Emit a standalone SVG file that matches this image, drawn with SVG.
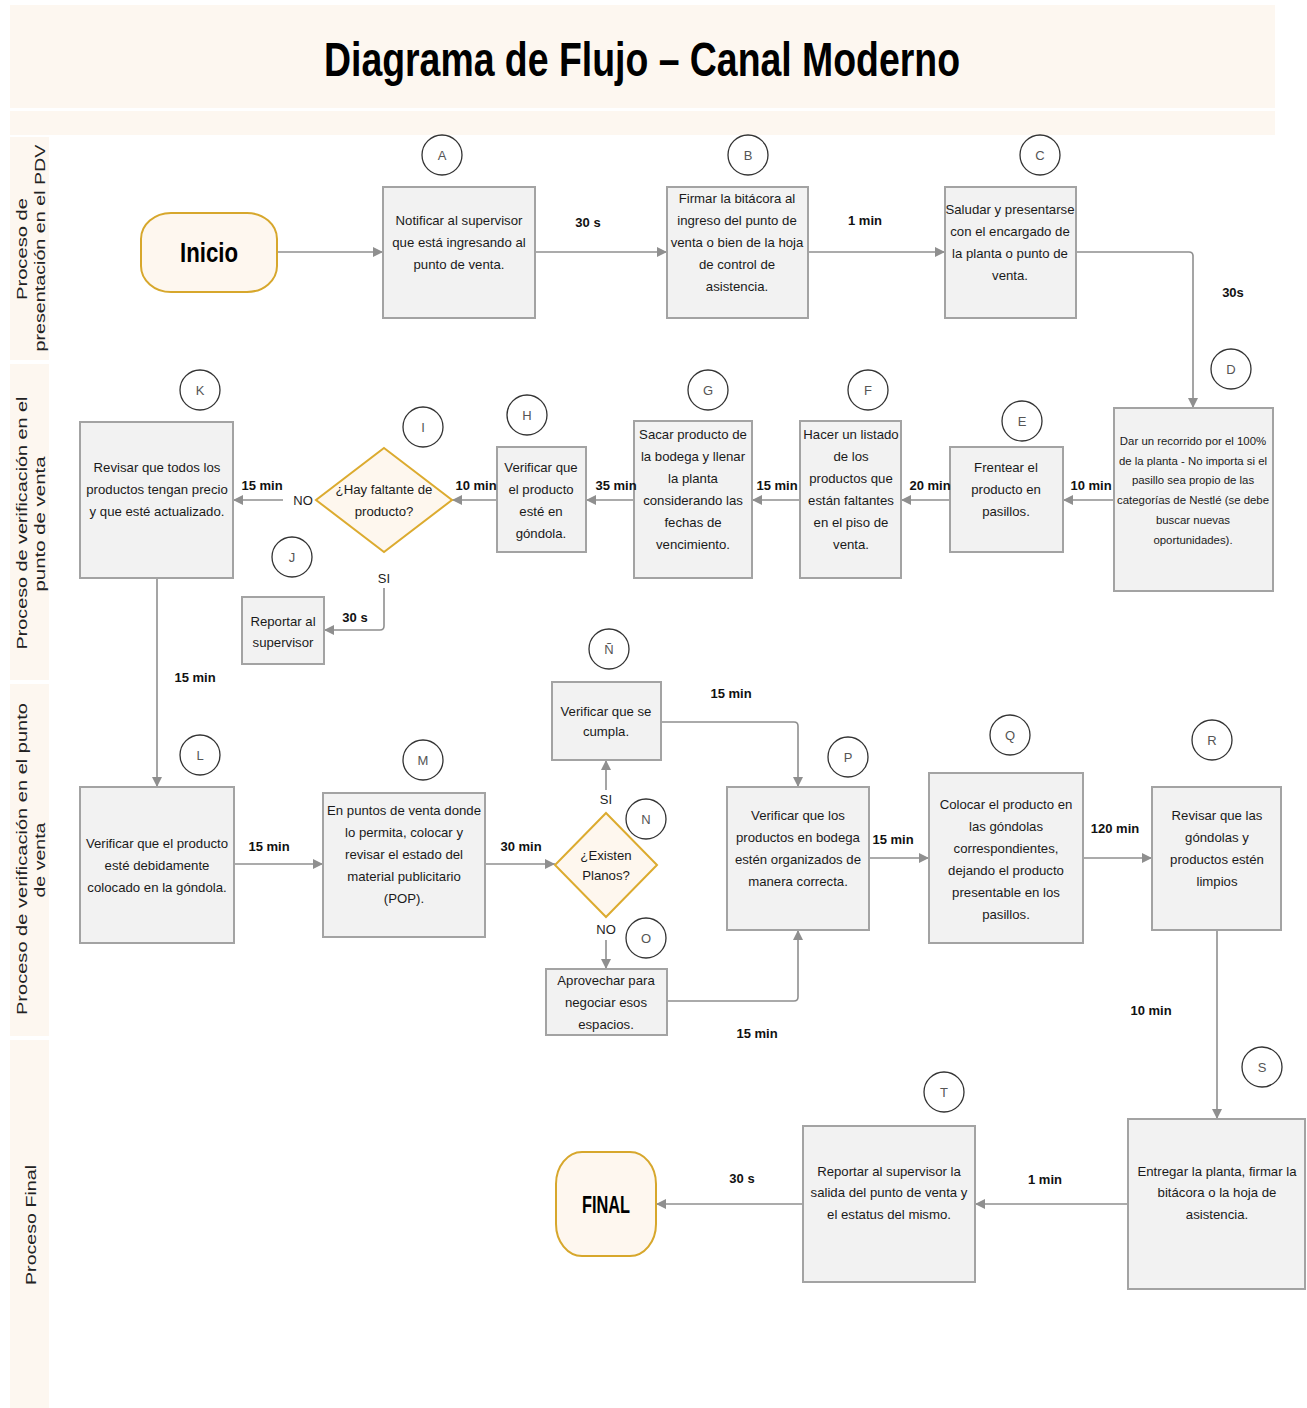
<svg xmlns="http://www.w3.org/2000/svg" width="1307" height="1408" viewBox="0 0 1307 1408">
  <style>
    .band { fill: #fdf7f0; }
    .box { fill: #f2f2f2; stroke: #a3a3a3; stroke-width: 2; }
    .term { fill: #fef7ef; stroke: #d7a72c; stroke-width: 2; }
    .dec { fill: #fef7ee; stroke: #dcab2f; stroke-width: 2; }
    .badge { fill: #ffffff; stroke: #333333; stroke-width: 1.3; }
    .bl { font-family: "Liberation Sans", Arial, sans-serif; font-size: 13px; fill: #555555; text-anchor: middle; }
    .t { font-family: "Liberation Sans", Arial, sans-serif; font-size: 13.2px; fill: #1a1a1a; text-anchor: middle; }
    .ts { font-size: 11.4px; }
    .lbl { font-family: "Liberation Sans", Arial, sans-serif; font-size: 13px; font-weight: bold; fill: #111111; text-anchor: middle; }
    .yn { font-family: "Liberation Sans", Arial, sans-serif; font-size: 13px; fill: #222222; text-anchor: middle; }
    .lane { font-family: "Liberation Sans", Arial, sans-serif; font-size: 14px; fill: #222222; text-anchor: middle; }
    .edge { fill: none; stroke: #8f8f8f; stroke-width: 1.6; }
  </style>
  <defs>
    <marker id="arr" viewBox="0 0 10 10" refX="10" refY="5" markerWidth="10" markerHeight="10" markerUnits="userSpaceOnUse" orient="auto">
      <path d="M0,0 L10,5 L0,10 z" fill="#8f8f8f"/>
    </marker>
  </defs>

  <rect width="1307" height="1408" fill="#ffffff"/>

  <!-- title bands -->
  <g id="title">
    <rect class="band" x="10" y="5" width="1265" height="103"/>
    <rect class="band" x="10" y="111" width="1265" height="24"/>
    <text x="642" y="76" font-family="'Liberation Sans', Arial, sans-serif" font-size="48" font-weight="bold" fill="#000000" text-anchor="middle" textLength="636" lengthAdjust="spacingAndGlyphs">Diagrama de Flujo – Canal Moderno</text>
  </g>

  <!-- swimlane headers -->
  <g id="lanes">
    <rect class="band" x="10" y="137" width="39" height="223"/>
    <rect class="band" x="10" y="364" width="39" height="316"/>
    <rect class="band" x="10" y="684" width="39" height="352"/>
    <rect class="band" x="10" y="1040" width="39" height="368"/>
    <text class="lane" transform="translate(27 249) rotate(-90)" textLength="102" lengthAdjust="spacingAndGlyphs">Proceso de</text>
    <text class="lane" transform="translate(45 248) rotate(-90)" textLength="207" lengthAdjust="spacingAndGlyphs">presentación en el PDV</text>
    <text class="lane" transform="translate(27 523) rotate(-90)" textLength="253" lengthAdjust="spacingAndGlyphs">Proceso de verificación en el</text>
    <text class="lane" transform="translate(45 524) rotate(-90)" textLength="135" lengthAdjust="spacingAndGlyphs">punto de venta</text>
    <text class="lane" transform="translate(27 859) rotate(-90)" textLength="312" lengthAdjust="spacingAndGlyphs">Proceso de verificación en el punto</text>
    <text class="lane" transform="translate(45 860) rotate(-90)" textLength="75" lengthAdjust="spacingAndGlyphs">de venta</text>
    <text class="lane" transform="translate(36 1225) rotate(-90)" textLength="120" lengthAdjust="spacingAndGlyphs">Proceso Final</text>
  </g>

  <!-- connectors -->
  <g id="connectors">
    <path class="edge" marker-end="url(#arr)" d="M277,252 H383"/>
    <path class="edge" marker-end="url(#arr)" d="M535,252 H667"/>
    <path class="edge" marker-end="url(#arr)" d="M808,252 H945"/>
    <path class="edge" marker-end="url(#arr)" d="M1076,252 H1189 Q1193,252 1193,256 V408"/>
    <path class="edge" marker-end="url(#arr)" d="M1114,500 H1063"/>
    <path class="edge" marker-end="url(#arr)" d="M950,500 H901"/>
    <path class="edge" marker-end="url(#arr)" d="M800,500 H752"/>
    <path class="edge" marker-end="url(#arr)" d="M634,500 H586"/>
    <path class="edge" marker-end="url(#arr)" d="M497,500 H452"/>
    <path class="edge" marker-end="url(#arr)" d="M283,500 H233"/>
    <path class="edge" marker-end="url(#arr)" d="M384,588 V626 Q384,630 380,630 H324"/>
    <path class="edge" marker-end="url(#arr)" d="M157,578 V787"/>
    <path class="edge" marker-end="url(#arr)" d="M234,864 H323"/>
    <path class="edge" marker-end="url(#arr)" d="M485,864 H555"/>
    <path class="edge" marker-end="url(#arr)" d="M606,790 V760"/>
    <path class="edge" marker-end="url(#arr)" d="M606,940 V969"/>
    <path class="edge" marker-end="url(#arr)" d="M661,722 H794 Q798,722 798,726 V787"/>
    <path class="edge" marker-end="url(#arr)" d="M667,1001 H794 Q798,1001 798,997 V930"/>
    <path class="edge" marker-end="url(#arr)" d="M869,858 H929"/>
    <path class="edge" marker-end="url(#arr)" d="M1083,858 H1152"/>
    <path class="edge" marker-end="url(#arr)" d="M1217,930 V1119"/>
    <path class="edge" marker-end="url(#arr)" d="M1128,1204 H975"/>
    <path class="edge" marker-end="url(#arr)" d="M803,1204 H656"/>
  </g>

  <!-- lane 1 -->
  <g id="inicio">
    <rect class="term" x="141" y="213" width="136" height="79" rx="30" ry="26"/>
    <text x="209" y="262" font-family="'Liberation Sans', Arial, sans-serif" font-size="28" font-weight="bold" fill="#000000" text-anchor="middle" textLength="58" lengthAdjust="spacingAndGlyphs">Inicio</text>
  </g>
  <g id="nodeA">
    <circle class="badge" cx="442" cy="155" r="20"/>
    <text class="bl" x="442" y="160">A</text>
    <rect class="box" x="383" y="187" width="152" height="131"/>
    <text class="t"><tspan x="459" y="225">Notificar al supervisor</tspan><tspan x="459" y="247">que está ingresando al</tspan><tspan x="459" y="269">punto de venta.</tspan></text>
  </g>
  <g id="nodeB">
    <circle class="badge" cx="748" cy="155" r="20"/>
    <text class="bl" x="748" y="160">B</text>
    <rect class="box" x="667" y="187" width="141" height="131"/>
    <text class="t"><tspan x="737" y="203">Firmar la bitácora al</tspan><tspan x="737" y="225">ingreso del punto de</tspan><tspan x="737" y="247">venta o bien de la hoja</tspan><tspan x="737" y="269">de control de</tspan><tspan x="737" y="291">asistencia.</tspan></text>
  </g>
  <g id="nodeC">
    <circle class="badge" cx="1040" cy="155" r="20"/>
    <text class="bl" x="1040" y="160">C</text>
    <rect class="box" x="945" y="187" width="131" height="131"/>
    <text class="t"><tspan x="1010" y="214">Saludar y presentarse</tspan><tspan x="1010" y="236">con el encargado de</tspan><tspan x="1010" y="258">la planta o punto de</tspan><tspan x="1010" y="280">venta.</tspan></text>
  </g>

  <!-- lane 2 -->
  <g id="nodeD">
    <circle class="badge" cx="1231" cy="369" r="20"/>
    <text class="bl" x="1231" y="374">D</text>
    <rect class="box" x="1114" y="408" width="159" height="183"/>
    <text class="t ts"><tspan x="1193" y="445">Dar un recorrido por el 100%</tspan><tspan x="1193" y="465">de la planta - No importa si el</tspan><tspan x="1193" y="484">pasillo sea propio de las</tspan><tspan x="1193" y="504">categorías de Nestlé (se debe</tspan><tspan x="1193" y="524">buscar nuevas</tspan><tspan x="1193" y="544">oportunidades).</tspan></text>
  </g>
  <g id="nodeE">
    <circle class="badge" cx="1022" cy="421" r="20"/>
    <text class="bl" x="1022" y="426">E</text>
    <rect class="box" x="950" y="447" width="113" height="105"/>
    <text class="t"><tspan x="1006" y="472">Frentear el</tspan><tspan x="1006" y="494">producto en</tspan><tspan x="1006" y="516">pasillos.</tspan></text>
  </g>
  <g id="nodeF">
    <circle class="badge" cx="868" cy="390" r="20"/>
    <text class="bl" x="868" y="395">F</text>
    <rect class="box" x="800" y="421" width="101" height="157"/>
    <text class="t"><tspan x="851" y="439">Hacer un listado</tspan><tspan x="851" y="461">de los</tspan><tspan x="851" y="483">productos que</tspan><tspan x="851" y="505">están faltantes</tspan><tspan x="851" y="527">en el piso de</tspan><tspan x="851" y="549">venta.</tspan></text>
  </g>
  <g id="nodeG">
    <circle class="badge" cx="708" cy="390" r="20"/>
    <text class="bl" x="708" y="395">G</text>
    <rect class="box" x="634" y="421" width="118" height="157"/>
    <text class="t"><tspan x="693" y="439">Sacar producto de</tspan><tspan x="693" y="461">la bodega y llenar</tspan><tspan x="693" y="483">la planta</tspan><tspan x="693" y="505">considerando las</tspan><tspan x="693" y="527">fechas de</tspan><tspan x="693" y="549">vencimiento.</tspan></text>
  </g>
  <g id="nodeH">
    <circle class="badge" cx="527" cy="415" r="20"/>
    <text class="bl" x="527" y="420">H</text>
    <rect class="box" x="497" y="447" width="89" height="105"/>
    <text class="t"><tspan x="541" y="472">Verificar que</tspan><tspan x="541" y="494">el producto</tspan><tspan x="541" y="516">esté en</tspan><tspan x="541" y="538">góndola.</tspan></text>
  </g>
  <g id="nodeI">
    <circle class="badge" cx="423" cy="427" r="20"/>
    <text class="bl" x="423" y="432">I</text>
    <polygon class="dec" points="384,448 452,500 384,552 316,500"/>
    <text class="t"><tspan x="384" y="494">¿Hay faltante de</tspan><tspan x="384" y="516">producto?</tspan></text>
  </g>
  <g id="nodeJ">
    <circle class="badge" cx="292" cy="557" r="20"/>
    <text class="bl" x="292" y="562">J</text>
    <rect class="box" x="242" y="597" width="82" height="67"/>
    <text class="t"><tspan x="283" y="626">Reportar al</tspan><tspan x="283" y="647">supervisor</tspan></text>
  </g>
  <g id="nodeK">
    <circle class="badge" cx="200" cy="390" r="20"/>
    <text class="bl" x="200" y="395">K</text>
    <rect class="box" x="80" y="422" width="153" height="156"/>
    <text class="t"><tspan x="157" y="472">Revisar que todos los</tspan><tspan x="157" y="494">productos tengan precio</tspan><tspan x="157" y="516">y que esté actualizado.</tspan></text>
  </g>

  <!-- lane 3 -->
  <g id="nodeL">
    <circle class="badge" cx="200" cy="755" r="20"/>
    <text class="bl" x="200" y="760">L</text>
    <rect class="box" x="80" y="787" width="154" height="156"/>
    <text class="t"><tspan x="157" y="848">Verificar que el producto</tspan><tspan x="157" y="870">esté debidamente</tspan><tspan x="157" y="892">colocado en la góndola.</tspan></text>
  </g>
  <g id="nodeM">
    <circle class="badge" cx="423" cy="760" r="20"/>
    <text class="bl" x="423" y="765">M</text>
    <rect class="box" x="323" y="793" width="162" height="144"/>
    <text class="t"><tspan x="404" y="815">En puntos de venta donde</tspan><tspan x="404" y="837">lo permita, colocar y</tspan><tspan x="404" y="859">revisar el estado del</tspan><tspan x="404" y="881">material publicitario</tspan><tspan x="404" y="903">(POP).</tspan></text>
  </g>
  <g id="nodeN">
    <circle class="badge" cx="646" cy="819" r="20"/>
    <text class="bl" x="646" y="824">N</text>
    <polygon class="dec" points="606,813 657,865 606,917 555,865"/>
    <text class="t" font-size="12"><tspan x="606" y="860">¿Existen</tspan><tspan x="606" y="880">Planos?</tspan></text>
  </g>
  <g id="nodeEnye">
    <circle class="badge" cx="609" cy="649" r="20"/>
    <text class="bl" x="609" y="654">Ñ</text>
    <rect class="box" x="552" y="682" width="109" height="78"/>
    <text class="t" font-size="12.5"><tspan x="606" y="716">Verificar que se</tspan><tspan x="606" y="736">cumpla.</tspan></text>
  </g>
  <g id="nodeO">
    <circle class="badge" cx="646" cy="938" r="20"/>
    <text class="bl" x="646" y="943">O</text>
    <rect class="box" x="546" y="969" width="121" height="66"/>
    <text class="t"><tspan x="606" y="985">Aprovechar para</tspan><tspan x="606" y="1007">negociar esos</tspan><tspan x="606" y="1029">espacios.</tspan></text>
  </g>
  <g id="nodeP">
    <circle class="badge" cx="848" cy="757" r="20"/>
    <text class="bl" x="848" y="762">P</text>
    <rect class="box" x="727" y="787" width="142" height="143"/>
    <text class="t"><tspan x="798" y="820">Verificar que los</tspan><tspan x="798" y="842">productos en bodega</tspan><tspan x="798" y="864">estén organizados de</tspan><tspan x="798" y="886">manera correcta.</tspan></text>
  </g>
  <g id="nodeQ">
    <circle class="badge" cx="1010" cy="735" r="20"/>
    <text class="bl" x="1010" y="740">Q</text>
    <rect class="box" x="929" y="773" width="154" height="170"/>
    <text class="t"><tspan x="1006" y="809">Colocar el producto en</tspan><tspan x="1006" y="831">las góndolas</tspan><tspan x="1006" y="853">correspondientes,</tspan><tspan x="1006" y="875">dejando el producto</tspan><tspan x="1006" y="897">presentable en los</tspan><tspan x="1006" y="919">pasillos.</tspan></text>
  </g>
  <g id="nodeR">
    <circle class="badge" cx="1212" cy="740" r="20"/>
    <text class="bl" x="1212" y="745">R</text>
    <rect class="box" x="1152" y="787" width="129" height="143"/>
    <text class="t"><tspan x="1217" y="820">Revisar que las</tspan><tspan x="1217" y="842">góndolas y</tspan><tspan x="1217" y="864">productos estén</tspan><tspan x="1217" y="886">limpios</tspan></text>
  </g>

  <!-- lane 4 -->
  <g id="nodeS">
    <circle class="badge" cx="1262" cy="1067" r="20"/>
    <text class="bl" x="1262" y="1072">S</text>
    <rect class="box" x="1128" y="1119" width="177" height="170"/>
    <text class="t"><tspan x="1217" y="1176">Entregar la planta, firmar la</tspan><tspan x="1217" y="1197">bitácora o la hoja de</tspan><tspan x="1217" y="1219">asistencia.</tspan></text>
  </g>
  <g id="nodeT">
    <circle class="badge" cx="944" cy="1092" r="20"/>
    <text class="bl" x="944" y="1097">T</text>
    <rect class="box" x="803" y="1126" width="172" height="156"/>
    <text class="t"><tspan x="889" y="1176">Reportar al supervisor la</tspan><tspan x="889" y="1197">salida del punto de venta y</tspan><tspan x="889" y="1219">el estatus del mismo.</tspan></text>
  </g>
  <g id="final">
    <rect class="term" x="556" y="1152" width="100" height="104" rx="26" ry="32"/>
    <text x="606" y="1213" font-family="'Liberation Sans', Arial, sans-serif" font-size="24" font-weight="bold" fill="#000000" text-anchor="middle" textLength="48" lengthAdjust="spacingAndGlyphs">FINAL</text>
  </g>

  <!-- connector labels (durations and decision answers), drawn above the boxes -->
  <g id="connector-labels">
    <text class="lbl" x="588" y="227">30 s</text>
    <text class="lbl" x="865" y="225">1 min</text>
    <text class="lbl" x="1233" y="297">30s</text>
    <text class="lbl" x="1091" y="490">10 min</text>
    <text class="lbl" x="930" y="490">20 min</text>
    <text class="lbl" x="777" y="490">15 min</text>
    <text class="lbl" x="616" y="490">35 min</text>
    <text class="lbl" x="476" y="490">10 min</text>
    <text class="lbl" x="262" y="490">15 min</text>
    <text class="yn" x="303" y="505">NO</text>
    <text class="yn" x="384" y="583">SI</text>
    <text class="lbl" x="355" y="622">30 s</text>
    <text class="lbl" x="195" y="682">15 min</text>
    <text class="lbl" x="269" y="851">15 min</text>
    <text class="lbl" x="521" y="851">30 min</text>
    <text class="yn" x="606" y="804">SI</text>
    <text class="yn" x="606" y="934">NO</text>
    <text class="lbl" x="731" y="698">15 min</text>
    <text class="lbl" x="757" y="1038">15 min</text>
    <text class="lbl" x="893" y="844">15 min</text>
    <text class="lbl" x="1115" y="833">120 min</text>
    <text class="lbl" x="1151" y="1015">10 min</text>
    <text class="lbl" x="1045" y="1184">1 min</text>
    <text class="lbl" x="742" y="1183">30 s</text>
  </g>
</svg>
